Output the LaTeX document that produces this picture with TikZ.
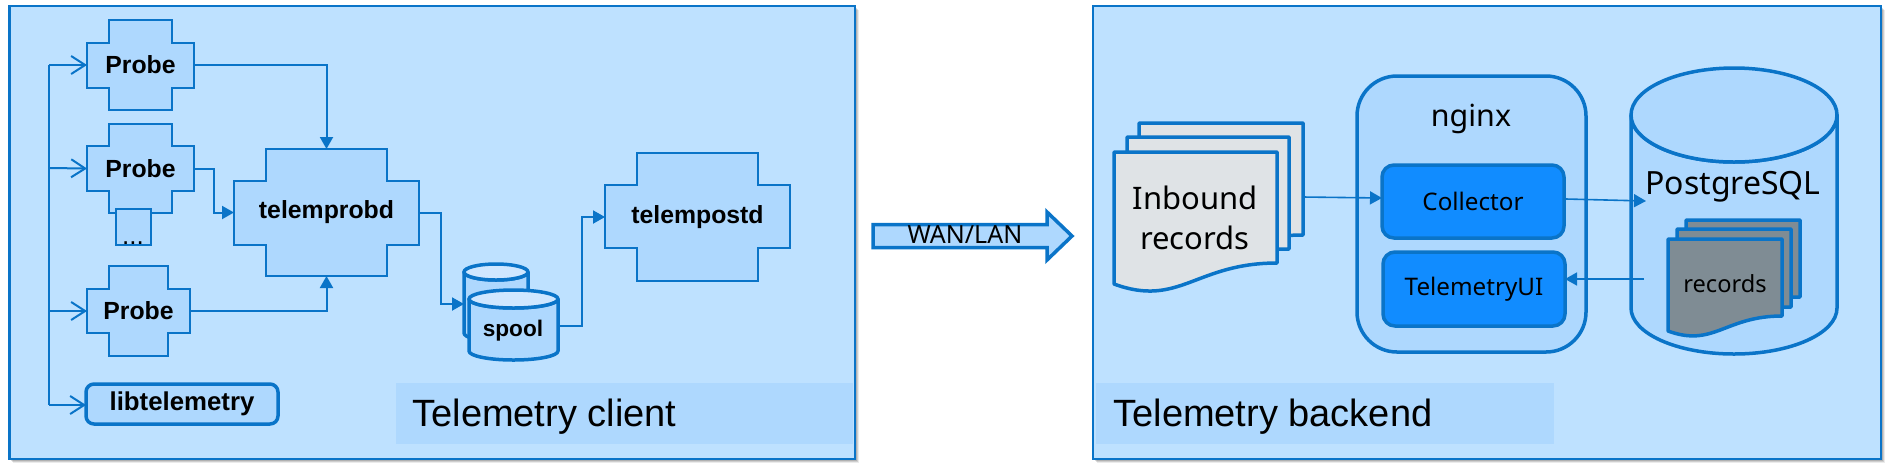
\documentclass[tikz,border=0pt]{standalone}
\usepackage{fontspec}
\setmainfont{Liberation Sans}
\newfontfamily\clearfont{Noto Sans}
\usetikzlibrary{arrows.meta,calc}
\definecolor{panelfill}{HTML}{BEE1FF}
\definecolor{boxfill}{HTML}{AED8FE}
\definecolor{stroke}{HTML}{0A74C8}
\definecolor{capfill}{HTML}{CFE7FF}
\definecolor{bright}{HTML}{118CFF}
\definecolor{paperlight}{HTML}{DFE3E6}
\definecolor{paperdark}{HTML}{7F8C94}
\tikzset{
  x=0.5pt,y=-0.5pt,
  panel/.style={draw=stroke,fill=panelfill,line width=1.1pt},
  caplabel/.style={fill=boxfill,draw=none,inner sep=0,outer sep=0},
  crossline/.style={draw=stroke,fill=boxfill,line width=1pt},
  holder/.style={inner sep=0,outer sep=0,font=\bfseries\fontsize{12.4}{14}\selectfont},
  openlink/.style={draw=stroke,line width=1pt,-{Straight Barb[length=7pt,width=9pt,line width=1pt]}},
  solidlink/.style={draw=stroke,line width=1pt,-{Triangle[length=6pt,width=6.5pt]}},
  thinlink/.style={draw=stroke,line width=0.8pt,-{Triangle[length=6pt,width=6.5pt]}},
  heavy/.style={draw=stroke,line width=1.75pt,line join=round},
  captext/.style={inner sep=0,anchor=base west,font=\fontsize{19}{22}\selectfont},
  innerbox/.style={heavy,fill=bright,rounded corners=6pt,minimum width=91pt,anchor=north west,inner sep=0,outer sep=0,font=\clearfont\fontsize{12.1}{14}\selectfont},
}
% name, x1 x2 x3 x4, y1 y2 y3 y4, text
\newcommand{\crossbox}[9]{%
  \draw[crossline,miter limit=4] (#2,#7)--(#3,#7)--(#3,#6)--(#4,#6)--(#4,#7)--(#5,#7)--(#5,#8)--(#4,#8)--(#4,#9)--(#3,#9)--(#3,#8)--(#2,#8)--cycle;
  \crossrest{#1}{#2}{#5}{#6}{#9}}
\newcommand{\crossrest}[6]{%
  \node[holder,minimum width={(#3-#2)*0.5pt},minimum height={(#5-#4)*0.5pt}] (#1) at ({(#2+#3)/2},{(#4+#5)/2}) {#6};}
% x1 x2 top yright yleft fill
\newcommand{\pagesheet}[6]{%
  \draw[heavy,fill=#6] (#1,#5) -- (#1,#3) -- (#2,#3) -- (#2,#4)
    .. controls ({#2-0.5*(#2-#1)},#4) and ({#2-0.6*(#2-#1)},{#5+0.147*(#2-#1)}) .. (#1,#5) -- cycle;}
\begin{document}
\begin{tikzpicture}
\useasboundingbox (0,0) rectangle (1889,468);
% shadows
\foreach \d/\o in {1/0.16,2/0.14,3/0.12,4/0.08}{
  \fill[black,opacity=\o] (9+\d,6+\d) rectangle (855+\d,459+\d);
  \fill[black,opacity=\o] (1093+\d,6+\d) rectangle (1881+\d,459+\d);
}
% panels
\draw[panel] (9.5,6) rectangle (855,459);
\draw[panel] (1093,6) rectangle (1881,459);
\node[caplabel,minimum width=228.5pt,minimum height=30.5pt,anchor=north west] (clientcap) at (396,383) {};
\node[caplabel,minimum width=229pt,minimum height=30.5pt,anchor=north west] (backcap) at (1096,383) {};
\node[captext] (clienttext) at (412,426) {Telemetry client};
\node[captext] (backtext) at (1113,426) {Telemetry backend};
% client crosses
\crossbox{probeA}{87}{109}{172}{194}{20}{43}{88}{110}{Probe}
\crossbox{probeB}{87}{109}{172}{194}{124}{146}{191}{213}{Probe}
\crossbox{probeC}{87}{109}{168}{190}{266}{289}{333}{356}{Probe}
\crossbox{telemprobd}{234}{266}{387}{419}{149}{181}{245}{276}{telemprobd}
\crossbox{telempostd}{605}{637}{758}{790}{153}{185}{248}{281}{telempostd}
% dots box
\node[crossline,minimum width=17.5pt,minimum height=18pt,anchor=north west,inner sep=0,outer sep=0] (dotsbox) at (116,209) {};
\node[inner sep=0,font=\fontsize{13}{14}\selectfont,anchor=base] (dots) at (133,244) {...};
% libtelemetry
\node[heavy,fill=boxfill,rounded corners=4pt,minimum width=96pt,minimum height=20pt,anchor=north west,inner sep=0,outer sep=0,font=\bfseries\fontsize{12.9}{14}\selectfont] (lib) at (86,384) {libtelemetry};
% spool
\draw[heavy,fill=boxfill] (464,272) -- (464,333) arc[start angle=180,end angle=360,x radius=16pt,y radius=4pt] -- (528,272) arc[start angle=0,end angle=180,x radius=16pt,y radius=-4pt] -- cycle;
\draw[heavy,fill=capfill] (496,272) ellipse[x radius=16pt,y radius=4pt];
\draw[heavy,fill=boxfill] (469,299) -- (469,351) arc[start angle=180,end angle=360,x radius=22.25pt,y radius=4.5pt] -- (558,299) arc[start angle=0,end angle=180,x radius=22.25pt,y radius=-4.5pt] -- cycle;
\draw[heavy,fill=capfill] (513.5,299) ellipse[x radius=22.25pt,y radius=4.5pt];
\node[inner sep=0,font=\bfseries\fontsize{11.3}{14}\selectfont] (spool) at (513,331) {spool};
\coordinate (spoolin) at (464,304);
\coordinate (spoolout) at (558,326);
% client connectors
\coordinate (busA) at (49,65);
\coordinate (busB) at (49,168);
\coordinate (busC) at (49,311);
\coordinate (busD) at (49,405);
\draw[draw=stroke,line width=1pt] (busA) -- (busD);
\draw[openlink] (busA) -- (probeA.west);
\draw[openlink] (busB) -- (probeB.west);
\draw[openlink] (busC) -- (probeC.west);
\draw[openlink] (busD) -- (lib.west |- busD);
\draw[solidlink] (probeA.east) -| (telemprobd.north);
\draw[solidlink] (probeB.east) -- ++(20,0) |- (telemprobd.west);
\draw[solidlink] (probeC.east) -| (telemprobd.south);
\draw[solidlink] (telemprobd.east) -- ++(22,0) |- (spoolin);
\draw[solidlink] (spoolout) -- ++(24,0) |- (telempostd.west);
% WAN arrow
\draw[heavy,fill=boxfill,line join=miter] (873,224.5) -- (1047,224.5) -- (1047,212) -- (1072,236) -- (1047,260) -- (1047,247.5) -- (873,247.5) -- cycle;
\node[inner sep=0,font=\clearfont\fontsize{12.5}{14}\selectfont] (wan) at (965,235) {WAN/LAN};
% inbound records
\pagesheet{1139}{1303}{123}{235}{256}{paperlight}
\pagesheet{1127}{1289}{137}{249}{270}{paperlight}
\pagesheet{1114}{1277}{152}{263}{284}{paperlight}
\node[inner sep=0,align=center,font=\clearfont\fontsize{15.5}{20}\selectfont] (inbound) at (1195,218) {Inbound\\records};
\coordinate (inboundout) at (1303,197);
% nginx
\node[heavy,fill=boxfill,rounded corners=20pt,minimum width=114.5pt,minimum height=138pt,anchor=north west,inner sep=0,outer sep=0] (nginx) at (1357,76) {};
\node[inner sep=0,anchor=base,font=\clearfont\fontsize{15.2}{20}\selectfont] (nginxtext) at (1471,126) {nginx};
\node[innerbox,minimum height=36.5pt] (collector) at (1382,165) {Collector};
\node[innerbox,minimum height=37pt] (tui) at (1383,252) {TelemetryUI};
% PostgreSQL
\draw[heavy,fill=boxfill] (1631,115) -- (1631,308) arc[start angle=180,end angle=360,x radius=51.5pt,y radius=23pt] -- (1837,115) arc[start angle=0,end angle=180,x radius=51.5pt,y radius=-23.5pt] -- cycle;
\draw[heavy,fill=boxfill] (1734,115) ellipse[x radius=51.5pt,y radius=23.5pt];
\node[inner sep=0,anchor=base,font=\clearfont\fontsize{16}{20}\selectfont] (pg) at (1733,194) {PostgreSQL};
\pagesheet{1686}{1800}{220}{297}{312}{paperdark}
\pagesheet{1677}{1791}{229}{307}{322}{paperdark}
\pagesheet{1668}{1782}{239}{316}{331}{paperdark}
\node[inner sep=0,anchor=base,font=\clearfont\fontsize{11.8}{14}\selectfont] (records) at (1725,292) {records};
\coordinate (pgin) at (1646,201);
\coordinate (pgout) at (1644,279);
% backend connectors
\draw[thinlink] (inboundout) -- ([yshift=1.75pt]collector.west);
\draw[thinlink] ([xshift=1pt,yshift=1.25pt]collector.east) -- (pgin);
\draw[thinlink] (pgout) -- ([yshift=5pt]tui.east);
\end{tikzpicture}
\end{document}
